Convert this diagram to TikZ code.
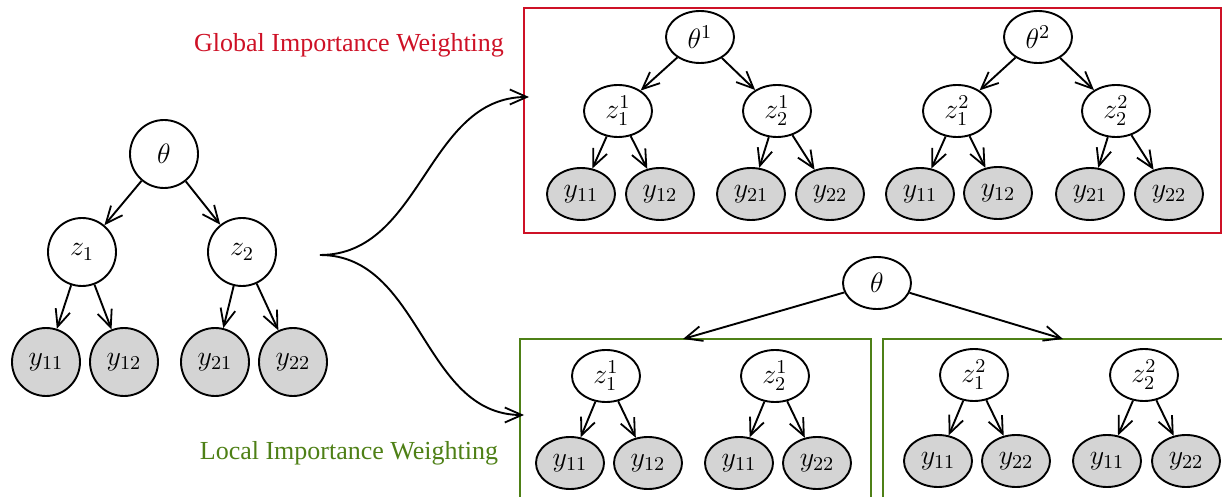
\RequirePackage{fix-cm}
\documentclass[tikz,border=0pt]{standalone}
\usepackage{fontspec}
\setmainfont{Liberation Serif}
\usetikzlibrary{arrows.meta,shapes.geometric}

\definecolor{globalred}{RGB}{206,17,38}
\definecolor{localgreen}{RGB}{78,128,22}

\begin{document}
\begin{tikzpicture}
[x=0.5pt,y=-0.5pt,->,>={Straight Barb[length=8.5pt,width=7.5pt,line width=0.9pt]},line width=0.95pt,
  font=\fontsize{13}{15}\selectfont,
  latent node/.style={circle,draw,fill=white,minimum size=34pt,inner sep=0pt,font=\fontsize{14}{16}\selectfont},
  obs node/.style={latent node,fill=black!17},
  flat node/.style={ellipse,draw,fill=white,minimum width=34pt,minimum height=26pt,inner sep=0pt,font=\fontsize{14}{16}\selectfont},
  flat obs/.style={flat node,fill=black!17}]

  \useasboundingbox (0,0) rectangle (1222,497);

  % original model
  \node [latent node] (t)   at (164,154) {$\theta$};
  \node [latent node] (z1)  at (82,252)  {$z_1$};
  \node [latent node] (z2)  at (242,252) {$z_2$};
  \node [obs node]    (y11) at (46,362)  {$y_{11}$};
  \node [obs node]    (y12) at (124,362) {$y_{12}$};
  \node [obs node]    (y21) at (215,362) {$y_{21}$};
  \node [obs node]    (y22) at (293,362) {$y_{22}$};

  \foreach \from/\to in {t/z1,t/z2,z1/y11,z1/y12,z2/y21,z2/y22}
    \draw (\from) -- (\to);

  % global importance weighting
  \node [text=globalred,anchor=base] (glabel) at (349,52) {Global Importance Weighting};
  \draw [-,globalred] (524,8) rectangle (1221,233);

  \node [flat node] (gat)   at (700,37)  {$\theta^1$};
  \node [flat node] (gaz1)  at (618,111) {$z_1^1$};
  \node [flat node] (gaz2)  at (777,111) {$z_2^1$};
  \node [flat obs]  (gay11) at (581,194) {$y_{11}$};
  \node [flat obs]  (gay12) at (660,194) {$y_{12}$};
  \node [flat obs]  (gay21) at (751,194) {$y_{21}$};
  \node [flat obs]  (gay22) at (830,194) {$y_{22}$};

  \node [flat node] (gbt)   at (1038,37)  {$\theta^2$};
  \node [flat node] (gbz1)  at (957,111)  {$z_1^2$};
  \node [flat node] (gbz2)  at (1116,111) {$z_2^2$};
  \node [flat obs]  (gby11) at (920,194)  {$y_{11}$};
  \node [flat obs]  (gby12) at (998,193)  {$y_{12}$};
  \node [flat obs]  (gby21) at (1090,194) {$y_{21}$};
  \node [flat obs]  (gby22) at (1169,194) {$y_{22}$};

  \foreach \p in {ga,gb}
    \foreach \from/\to in {t/z1,t/z2,z1/y11,z1/y12,z2/y21,z2/y22}
      \draw (\p\from) -- (\p\to);

  % local importance weighting
  \node [text=localgreen,anchor=base] (llabel) at (349,459) {Local Importance Weighting};
  \draw [-,localgreen] (520,339) rectangle (871,530);
  \draw [-,localgreen] (883,339) rectangle (1240,530);

  \node [flat node] (lt) at (877,283) {$\theta$};
  \coordinate (latop) at (683,339);
  \coordinate (lbtop) at (1063,339);

  \node [flat node] (laz1)  at (606,376) {$z_1^1$};
  \node [flat node] (laz2)  at (775,376) {$z_2^1$};
  \node [flat obs]  (lay11) at (570,463) {$y_{11}$};
  \node [flat obs]  (lay12) at (648,463) {$y_{12}$};
  \node [flat obs]  (lay21) at (739,463) {$y_{11}$};
  \node [flat obs]  (lay22) at (817,463) {$y_{22}$};

  \node [flat node] (lbz1)  at (974,375)  {$z_1^2$};
  \node [flat node] (lbz2)  at (1144,375) {$z_2^2$};
  \node [flat obs]  (lby11) at (938,461)  {$y_{11}$};
  \node [flat obs]  (lby12) at (1016,461) {$y_{22}$};
  \node [flat obs]  (lby21) at (1107,461) {$y_{11}$};
  \node [flat obs]  (lby22) at (1186,461) {$y_{22}$};

  \draw (lt) -- (latop);
  \draw (lt) -- (lbtop);
  \foreach \p in {la,lb}
    \foreach \from/\to in {z1/y11,z1/y12,z2/y21,z2/y22}
      \draw (\p\from) -- (\p\to);

  % the two ways out
  \coordinate (split) at (320,255);
  \coordinate (gin)   at (529,97);
  \coordinate (lin)   at (524,415);
  \draw (split) to[out=0,in=180] (gin);
  \draw (split) to[out=0,in=180] (lin);

\end{tikzpicture}
\end{document}
